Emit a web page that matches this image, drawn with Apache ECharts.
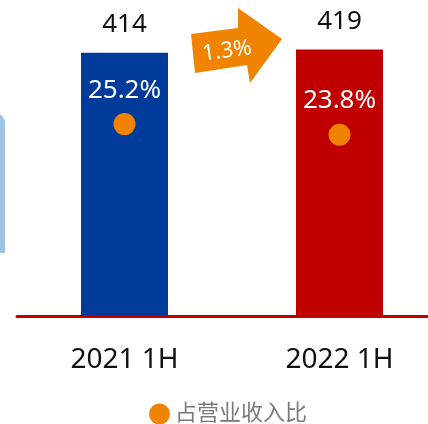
<!DOCTYPE html>
<html>
<head>
<meta charset="utf-8">
<script src="https://cdn.jsdelivr.net/npm/echarts@6/dist/echarts.min.js"></script>
<style>
  html, body { margin: 0; padding: 0; background: #fff; }
  #chart { width: 428px; height: 424px; }
</style>
</head>
<body>
<div id="chart"></div>
<script>
// 数据
var categories = ['2021 1H', '2022 1H']
var revenue = [414, 419]
var ratio = [25.2, 23.8]
var barColors = ['#003A9B', '#C00000']
var growthText = '1.3%'
var legendName = '占营业收入比'

var FONT = '"Noto Sans", "Noto Sans CJK SC", sans-serif'

var chart = echarts.init(document.getElementById('chart'))

chart.setOption({
  animation: false,
  grid: {
    left: 17,
    top: 0,
    width: 430,
    bottom: 108,
    outerBoundsMode: 'none'
  },
  legend: {
    data: [legendName],
    left: 149,
    top: 403,
    padding: 0,
    icon: 'circle',
    itemWidth: 21,
    itemHeight: 21,
    itemGap: 4,
    textStyle: {
      fontSize: 22,
      color: '#7a7a7a',
      fontFamily: FONT
    }
  },
  xAxis: {
    type: 'category',
    data: categories,
    axisTick: { show: false },
    axisLine: {
      lineStyle: { color: '#C00000', width: 3 }
    },
    axisLabel: {
      margin: 30,
      fontSize: 28,
      color: '#111',
      fontFamily: FONT
    }
  },
  yAxis: [{
    type: 'value',
    min: 0,
    max: 497,
    show: false
  }, {
    type: 'value',
    min: 0,
    max: 41.5,
    show: false
  }],
  series: [{
    name: '营业收入',
    type: 'bar',
    barWidth: 87,
    data: revenue.map(function (v, i) {
      return { value: v, itemStyle: { color: barColors[i] } }
    }),
    label: {
      show: true,
      position: 'top',
      distance: 15,
      fontSize: 26,
      color: '#111',
      fontFamily: FONT
    }
  }, {
    name: legendName,
    type: 'scatter',
    yAxisIndex: 1,
    symbolSize: 22,
    itemStyle: { color: '#F08300', opacity: 1 },
    data: ratio,
    label: {
      show: true,
      position: 'top',
      distance: 10,
      fontSize: 26,
      color: '#fff',
      opacity: 1,
      fontFamily: FONT,
      formatter: function (p) {
        return p.value.toFixed(1) + '%'
      }
    },
    z: 3
  }],
  graphic: [{
    // 增长箭头
    type: 'polygon',
    shape: {
      points: [[191, 34], [238, 28], [238, 8], [282, 39], [250, 83], [247, 65], [195, 73]]
    },
    style: { fill: '#F08300' }
  }, {
    type: 'text',
    x: 227,
    y: 51,
    rotation: 0.13,
    style: {
      text: growthText,
      fill: '#fff',
      fontSize: 22,
      fontFamily: FONT,
      align: 'center',
      verticalAlign: 'middle'
    }
  }, {
    // 左侧残留色块
    type: 'polygon',
    shape: {
      points: [[0, 114], [3, 117], [5, 121], [5, 253], [0, 253]]
    },
    style: { fill: '#9DC3E6' }
  }]
})
</script>
</body>
</html>
